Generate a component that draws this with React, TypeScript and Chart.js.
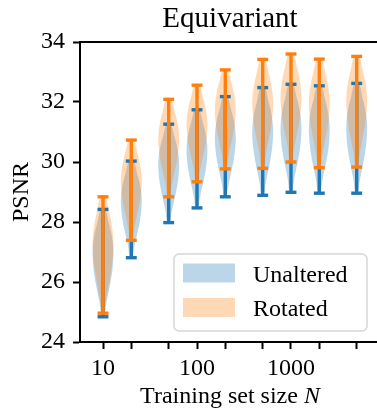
import React, { useEffect, useRef } from "react";
import { Chart, registerables } from "chart.js";

Chart.register(...registerables);

// ---- data ----
const trainingSizes = [10, 20, 50, 100, 200, 500, 1000, 2000, 5000];
const xTickLabels = ["10", "", "", "100", "", "", "1000", "", ""];
const yTickValues = [24, 26, 28, 30, 32, 34];

const unalteredMin = [24.84, 26.81, 27.98, 28.47, 28.84, 28.89, 28.99, 28.96, 28.96];
const unalteredMax = [28.42, 30.03, 31.26, 31.74, 32.18, 32.48, 32.59, 32.54, 32.62];
const rotatedMin = [24.96, 27.39, 28.84, 29.34, 29.77, 29.79, 30.0, 29.81, 29.83];
const rotatedMax = [28.84, 30.73, 32.09, 32.56, 33.07, 33.42, 33.6, 33.43, 33.52];

// relative violin width at evenly spaced levels from min (0) to max (1)
const densityLevels = [0, 0.125, 0.25, 0.375, 0.5, 0.625, 0.75, 0.875, 1];
const unalteredDensity = [0.12, 0.32, 0.58, 0.82, 0.97, 1.0, 0.85, 0.55, 0.2];
const rotatedDensity = [0.12, 0.3, 0.55, 0.8, 0.96, 1.0, 0.86, 0.58, 0.22];

const seriesNames = ["Unaltered", "Rotated"];
const titleText = "Equivariant";
const yTitleText = "PSNR";
const xTitleParts: [string, string][] = [
  ["Training set size ", "normal"],
  ["N", "italic"],
];

// ---- styling ----
const FONT = "'Liberation Serif', 'Times New Roman', serif";
const C0 = "#1f77b4";
const C1 = "#ff7f0e";
const C0_FILL = "rgba(31,119,180,0.3)";
const C1_FILL = "rgba(255,127,14,0.3)";
const VIOLIN_HALF = 0.11; // decades
const CAP_HALF = 0.058; // decades
const LINE_W = 3.4;
const X_MIN = 5.69;
const X_MAX = 8850;

function violinDatasets(
  name: string,
  mins: number[],
  maxs: number[],
  density: number[],
  color: string,
  fill: string,
  bodyOrder: number,
  lineOrder: number
) {
  const out: any[] = [];
  trainingSizes.forEach((pos, i) => {
    const lo = mins[i];
    const hi = maxs[i];
    const right = densityLevels.map((t, k) => ({
      x: pos * Math.pow(10, VIOLIN_HALF * density[k]),
      y: lo + t * (hi - lo),
    }));
    const left = densityLevels
      .map((t, k) => ({
        x: pos * Math.pow(10, -VIOLIN_HALF * density[k]),
        y: lo + t * (hi - lo),
      }))
      .reverse();
    out.push({
      label: name,
      data: [...right, ...left, right[0]],
      showLine: true,
      fill: "shape",
      backgroundColor: fill,
      borderColor: "rgba(0,0,0,0)",
      borderWidth: 0,
      pointRadius: 0,
      tension: 0.4,
      order: bodyOrder,
    });
    const lineStyle = {
      label: name,
      showLine: true,
      fill: false,
      borderColor: color,
      backgroundColor: color,
      borderWidth: LINE_W,
      borderCapStyle: "butt",
      pointRadius: 0,
      order: lineOrder,
    };
    out.push({ ...lineStyle, data: [{ x: pos, y: lo }, { x: pos, y: hi }] });
    out.push({
      ...lineStyle,
      data: [
        { x: pos * Math.pow(10, -CAP_HALF), y: lo },
        { x: pos * Math.pow(10, CAP_HALF), y: lo },
      ],
    });
    out.push({
      ...lineStyle,
      data: [
        { x: pos * Math.pow(10, -CAP_HALF), y: hi },
        { x: pos * Math.pow(10, CAP_HALF), y: hi },
      ],
    });
  });
  return out;
}

const framePlugin = {
  id: "frame",
  afterDatasetsDraw(chart: any) {
    const { ctx, chartArea: a } = chart;
    ctx.save();
    ctx.strokeStyle = "#000";
    ctx.lineWidth = 2;
    ctx.beginPath();
    ctx.moveTo(a.left - 1, a.top);
    ctx.lineTo(a.right, a.top);
    ctx.lineTo(a.right, a.bottom);
    ctx.stroke();
    ctx.restore();
  },
};

const legendPlugin = {
  id: "boxLegend",
  afterDatasetsDraw(chart: any) {
    const { ctx, chartArea: a } = chart;
    const w = 193;
    const h = 77;
    const bx = a.right - 13 - w;
    const by = a.bottom - 11 - h;
    ctx.save();
    ctx.beginPath();
    ctx.roundRect(bx, by, w, h, 5);
    ctx.fillStyle = "rgba(255,255,255,0.8)";
    ctx.fill();
    ctx.strokeStyle = "rgba(204,204,204,0.8)";
    ctx.lineWidth = 1.5;
    ctx.stroke();
    const fills = [C0_FILL, C1_FILL];
    ctx.font = `24px ${FONT}`;
    ctx.textBaseline = "alphabetic";
    ctx.textAlign = "left";
    seriesNames.forEach((name, i) => {
      ctx.fillStyle = fills[i];
      ctx.fillRect(bx + 9, by + 9.5 + i * 34.5, 52, 19);
      ctx.fillStyle = "#000";
      ctx.fillText(name, bx + 79, by + 28 + i * 33.5);
    });
    ctx.restore();
  },
};

function xTitlePartWidths(ctx: CanvasRenderingContext2D) {
  return xTitleParts.map(([txt, style]) => {
    ctx.font = `${style === "italic" ? "italic " : ""}24px ${FONT}`;
    return ctx.measureText(txt).width;
  });
}

const xTitlePlugin = {
  id: "xTitle",
  afterDraw(chart: any) {
    const { ctx, chartArea: a } = chart;
    ctx.save();
    ctx.fillStyle = "#000";
    ctx.textBaseline = "alphabetic";
    ctx.textAlign = "left";
    const widths = xTitlePartWidths(ctx);
    const total = widths.reduce((s, v) => s + v, 0);
    let x = (a.left + a.right) / 2 - total / 2;
    xTitleParts.forEach(([txt, style], i) => {
      ctx.font = `${style === "italic" ? "italic " : ""}24px ${FONT}`;
      ctx.fillText(txt, x, 403);
      x += widths[i];
    });
    ctx.restore();
  },
};

export default function App() {
  const canvasRef = useRef<HTMLCanvasElement | null>(null);

  useEffect(() => {
    if (!canvasRef.current) return;
    // matplotlib draws all bodies first, then all extrema lines on top
    const datasets = [
      ...violinDatasets(seriesNames[1], rotatedMin, rotatedMax, rotatedDensity, C1, C1_FILL, 3, 1),
      ...violinDatasets(seriesNames[0], unalteredMin, unalteredMax, unalteredDensity, C0, C0_FILL, 4, 2),
    ];
    const tickFont = { family: FONT, size: 24 };
    const chart = new Chart(canvasRef.current, {
      type: "scatter",
      data: { datasets },
      plugins: [framePlugin, legendPlugin, xTitlePlugin],
      options: {
        animation: false,
        responsive: false,
        devicePixelRatio: 1,
        events: [],
        layout: { padding: { left: 0, right: 2, top: 0, bottom: 0 } },
        plugins: {
          legend: { display: false },
          tooltip: { enabled: false },
          title: {
            display: true,
            text: titleText,
            fullSize: false,
            color: "#000",
            font: { family: FONT, size: 29, weight: "normal", lineHeight: 1 },
            padding: { top: 5, bottom: 8 },
          },
        },
        scales: {
          x: {
            type: "logarithmic",
            min: X_MIN,
            max: X_MAX,
            bounds: "data",
            afterBuildTicks: (s: any) => {
              s.ticks = trainingSizes.map((v) => ({ value: v }));
            },
            afterFit: (s: any) => {
              s.height = 66;
            },
            ticks: {
              autoSkip: false,
              maxRotation: 0,
              minRotation: 0,
              padding: 5,
              color: "#000",
              font: tickFont,
              callback: (_v: any, i: number) => xTickLabels[i],
            },
            grid: {
              drawOnChartArea: false,
              tickLength: 7,
              tickColor: "#000",
              tickWidth: 2,
            },
            border: { color: "#000", width: 2 },
          },
          y: {
            type: "linear",
            min: 24,
            max: 34,
            afterBuildTicks: (s: any) => {
              s.ticks = yTickValues.map((v) => ({ value: v }));
            },
            afterFit: (s: any) => {
              s.width = 80;
            },
            ticks: {
              padding: 8,
              color: "#000",
              font: tickFont,
              callback: (v: any) => String(v),
            },
            grid: {
              drawOnChartArea: false,
              tickLength: 7,
              tickColor: "#000",
              tickWidth: 2,
            },
            border: { color: "#000", width: 2 },
            title: {
              display: true,
              text: yTitleText,
              color: "#000",
              font: { family: FONT, size: 24, lineHeight: 1 },
              padding: { top: 10, bottom: 0 },
            },
          },
        },
      } as any,
    });
    return () => chart.destroy();
  }, []);

  return (
    <div
      style={{
        position: "fixed",
        left: 0,
        top: 0,
        width: 377,
        height: 408,
        overflow: "hidden",
        background: "#fff",
      }}
    >
      <canvas ref={canvasRef} width={382} height={408} style={{ display: "block" }} />
    </div>
  );
}
